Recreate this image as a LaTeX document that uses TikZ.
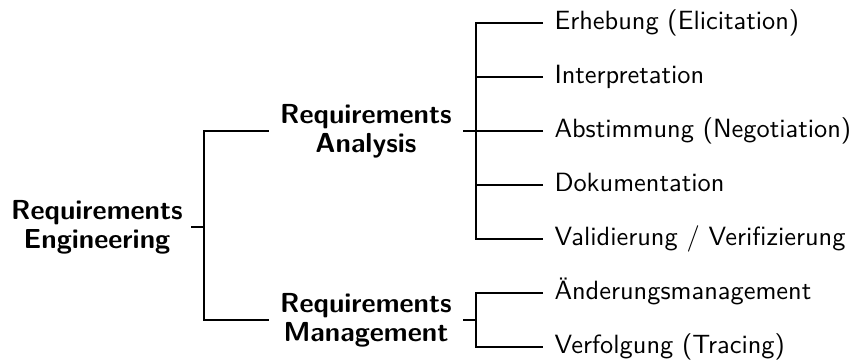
\documentclass[tikz,border=0pt]{standalone}
\usepackage{fontspec}
\begin{document}
\begin{tikzpicture}[x=0.4pt,y=-0.4pt,
  every node/.style={font=\sffamily\fontsize{10.55}{12}\selectfont},
  topic/.style={font=\sffamily\bfseries\fontsize{11}{11.7}\selectfont, align=center, inner xsep=4.4pt},
  rootnode/.style={font=\sffamily\bfseries\fontsize{11}{11.7}\selectfont, align=center, inner xsep=3.2pt},
  leaf/.style={anchor=west, inner xsep=4.4pt, inner ysep=0pt, text height=7.9pt, text depth=2.6pt},
  link/.style={line width=0.8pt}]
\useasboundingbox (0,0) rectangle (854,361);

% root
\node[rootnode] (re) at (97,227) {Requirements\\Engineering};

% second level
\node[topic] (ra) at (366,131) {Requirements\\Analysis};
\node[topic] (rm) at (366,320) {Requirements\\Management};

% leaves of the analysis branch
\node[leaf] (l1) at (543,23)  {Erhebung (Elicitation)};
\node[leaf] (l2) at (543,77)  {Interpretation};
\node[leaf] (l3) at (543,131) {Abstimmung (Negotiation)};
\node[leaf] (l4) at (543,185) {Dokumentation};
\node[leaf] (l5) at (543,239) {Validierung / Verifizierung};

% leaves of the management branch
\node[leaf] (m1) at (543,293) {Änderungsmanagement};
\node[leaf] (m2) at (543,347) {Verfolgung (Tracing)};

% fork points
\coordinate (reFork) at (204,227);
\coordinate (raFork) at (476,131);
\coordinate (rmFork) at (476,320);

% connectors
\draw[link] (re.east) -- (reFork);
\draw[link] (ra.west) -| (reFork) |- (rm.west);

\draw[link] (ra.east) -- (raFork);
\draw[link] (l1.west) -| (raFork) |- (l5.west);
\draw[link] (l2.west) -- (l2.west -| raFork);
\draw[link] (l3.west) -- (raFork);
\draw[link] (l4.west) -- (l4.west -| raFork);

\draw[link] (rm.east) -- (rmFork);
\draw[link] (m1.west) -| (rmFork) |- (m2.west);
\end{tikzpicture}
\end{document}
